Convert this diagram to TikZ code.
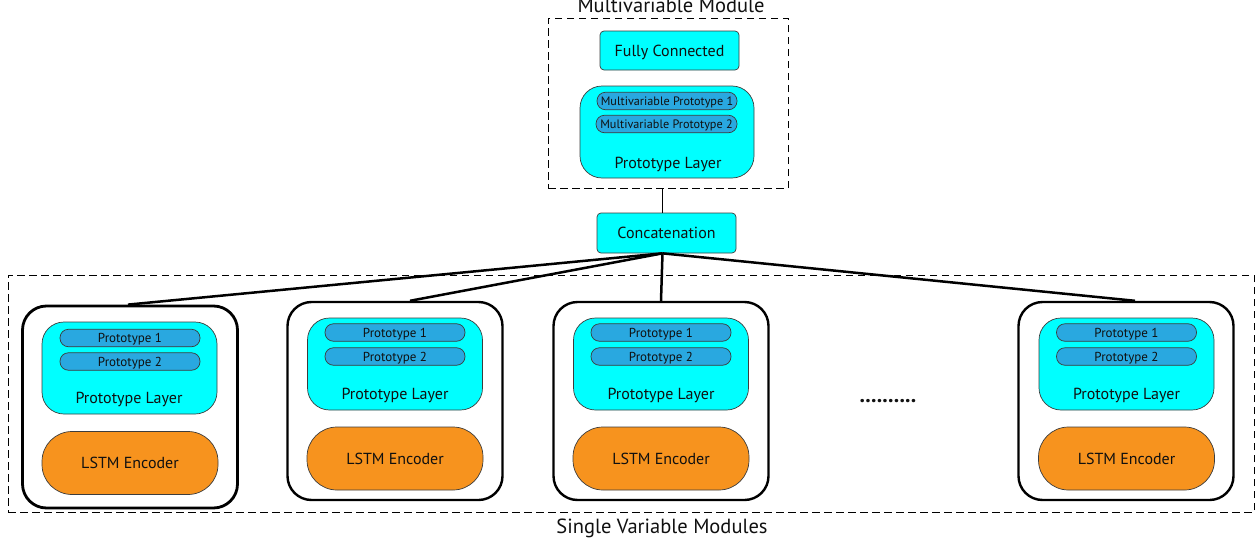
\documentclass[tikz,border=0pt]{standalone}
\usepackage{fontspec}
\setmainfont{PT Sans}
\definecolor{cyanfill}{HTML}{00FFFF}
\definecolor{pillfill}{HTML}{29A8E0}
\definecolor{orangefill}{HTML}{F7931E}
\definecolor{edgegray}{HTML}{3C3C3C}
\definecolor{txt}{HTML}{101010}
\begin{document}
\begin{tikzpicture}[x=1pt,y=-1pt,
  every node/.style={text=txt},
  cyanbox/.style={draw=edgegray, line width=0.7pt, fill=cyanfill, rounded corners=4pt, inner sep=0pt, font=\fontsize{16}{18}\selectfont, text height=11.2pt, text depth=0pt},
  protolayer/.style={draw=edgegray, line width=0.7pt, fill=cyanfill, rounded corners=22pt, minimum width=175pt, minimum height=92pt, inner sep=0pt},
  pill/.style={draw=edgegray, line width=0.7pt, fill=pillfill, rounded corners=8.5pt, minimum width=140pt, minimum height=17.5pt, inner sep=0pt, font=\fontsize{13}{15}\selectfont, text height=9.1pt, text depth=0pt},
  mpill/.style={pill, font=\fontsize{12.2}{14}\selectfont, text height=8.6pt},
  lstm/.style={draw=edgegray, line width=0.7pt, fill=orangefill, rounded corners=30pt, minimum width=176pt, minimum height=63pt, inner sep=0pt, font=\fontsize{16}{18}\selectfont, text height=11.2pt, text depth=0pt},
  outerbox/.style={draw=black, line width=2.4pt, rounded corners=24pt, minimum width=215pt, minimum height=198pt, inner sep=0pt},
  label/.style={font=\fontsize{16}{18}\selectfont, inner sep=0pt, text height=11.2pt, text depth=0pt},
  modlabel/.style={font=\fontsize{20.5}{22}\selectfont, inner sep=0pt, text height=14.3pt, text depth=0pt},
  dashbox/.style={draw=black, line width=1pt, dash pattern=on 7.5pt off 4.5pt},
  conn/.style={draw=black, line width=2.5pt}
]
\useasboundingbox (0,0) rectangle (1258,546);

% Multivariable module
\node[dashbox, minimum width=240pt, minimum height=170pt, inner sep=0pt] (mm) at (668,103) {};
\node[modlabel] (mmlabel) at (671,5.5) {Multivariable Module};
\node[cyanbox, minimum width=139pt, minimum height=39pt, text depth=-4pt] (fc) at (669.5,50.5) {Fully Connected};
\node[protolayer, minimum width=174pt] (mpl) at (667,132) {};
\node[mpill] (mp1) at (667,101) {Multivariable Prototype 1};
\node[mpill, minimum width=141pt] (mp2) at (666.5,124) {Multivariable Prototype 2};
\node[label] (mpll) at (668,163) {Prototype Layer};

% Concatenation
\node[cyanbox, minimum width=139pt, minimum height=40pt] (cat) at (666.5,233) {Concatenation};
\draw[line width=1.6pt] (mm.south -| cat.north) ++(-4,0) coordinate (mmb) -- (cat.north -| mmb);

% Single variable modules box
\node[dashbox, minimum width=1246pt, minimum height=237pt, inner sep=0pt] (sv) at (631,393.5) {};
\node[modlabel] (svlabel) at (662,526) {Single Variable Modules};

% Module 1
\node[outerbox, line width=2.8pt, minimum height=202pt] (o1) at (130,407) {};
\node[protolayer] (p1) at (129.5,368) {};
\node[pill] (p1a) at (130,338) {Prototype 1};
\node[pill] (p1b) at (130,361.5) {Prototype 2};
\node[label] (p1l) at (129,398) {Prototype Layer};
\node[lstm] (l1) at (130,463) {LSTM Encoder};

% Module 2
\node[outerbox] (o2) at (395,401) {};
\node[protolayer] (p2) at (395,364) {};
\node[pill] (p2a) at (395,332.5) {Prototype 1};
\node[pill] (p2b) at (395,356.5) {Prototype 2};
\node[label] (p2l) at (395,393.5) {Prototype Layer};
\node[lstm] (l2) at (395,458.5) {LSTM Encoder};

% Module 3
\node[outerbox] (o3) at (661,401) {};
\node[protolayer] (p3) at (661,364) {};
\node[pill] (p3a) at (661,332.5) {Prototype 1};
\node[pill] (p3b) at (661,356.5) {Prototype 2};
\node[label] (p3l) at (661,393.5) {Prototype Layer};
\node[lstm] (l3) at (661,458.5) {LSTM Encoder};

% Dots
\node[font=\fontsize{22}{24}\selectfont\bfseries, inner sep=0pt] (dots) at (888,401) {..........};

% Module 4
\node[outerbox] (o4) at (1126,401) {};
\node[protolayer] (p4) at (1126.5,364) {};
\node[pill] (p4a) at (1126.5,332.5) {Prototype 1};
\node[pill] (p4b) at (1126.5,356.5) {Prototype 2};
\node[label] (p4l) at (1126.5,393.5) {Prototype Layer};
\node[lstm] (l4) at (1126.5,458.5) {LSTM Encoder};

% Connectors
\coordinate (cb) at ([xshift=-4pt]cat.south);
\draw[conn] (cb) -- ([xshift=-2pt]o1.north);
\draw[conn] (cb) -- ([xshift=15pt]o2.north);
\draw[conn] (cb) -- (o3.north);
\draw[conn] (cb) -- ([xshift=9pt]o4.north);
\end{tikzpicture}
\end{document}
